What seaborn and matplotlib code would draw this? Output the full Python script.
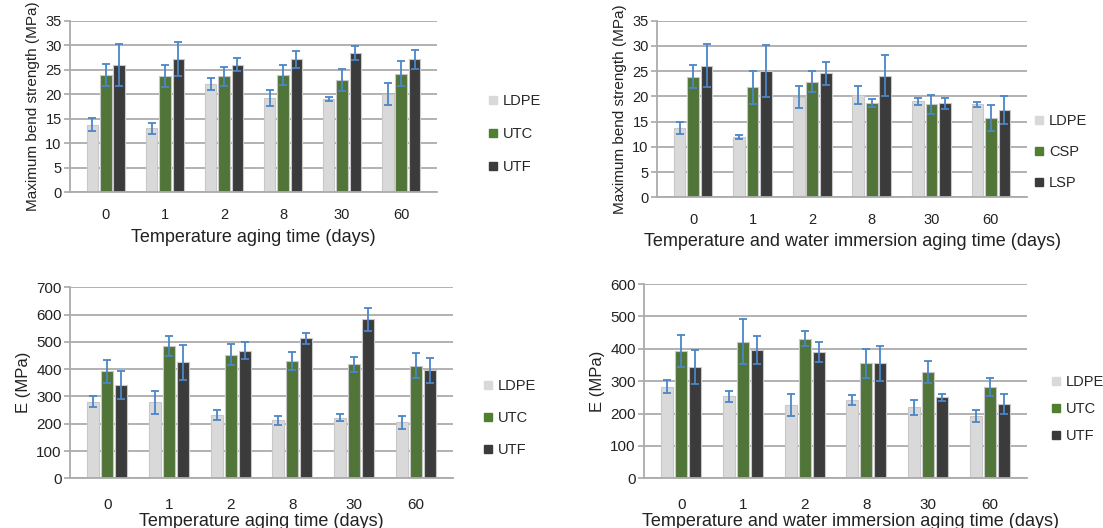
import matplotlib
matplotlib.use("Agg")
import matplotlib.pyplot as plt
import seaborn as sns
import pandas as pd
from matplotlib.lines import Line2D

days = ["0", "1", "2", "8", "30", "60"]

# top left: bend strength, temperature aging
bend_t_ldpe = [13.8, 13.0, 22.1, 19.2, 19.1, 20.0]
bend_t_ldpe_err = [1.3, 1.2, 1.2, 1.7, 0.4, 2.3]
bend_t_utc = [23.9, 23.7, 23.6, 23.9, 22.9, 24.2]
bend_t_utc_err = [2.3, 2.3, 2.0, 2.0, 2.3, 2.6]
bend_t_utf = [26.0, 27.1, 26.0, 27.1, 28.4, 27.1]
bend_t_utf_err = [4.3, 3.5, 1.3, 1.7, 1.4, 1.9]

# top right: bend strength, temperature + water immersion
bend_w_ldpe = [13.7, 11.9, 19.9, 20.3, 19.0, 18.4]
bend_w_ldpe_err = [1.25, 0.4, 2.2, 1.75, 0.7, 0.5]
bend_w_csp = [23.9, 21.8, 22.9, 18.6, 18.4, 15.7]
bend_w_csp_err = [2.3, 3.3, 2.1, 0.8, 1.8, 2.5]
bend_w_lsp = [26.1, 25.0, 24.6, 24.1, 18.6, 17.3]
bend_w_lsp_err = [4.3, 5.2, 2.3, 4.1, 1.1, 2.8]

# bottom left: modulus, temperature aging
e_t_ldpe = [280, 278, 232, 212, 222, 205]
e_t_ldpe_err = [20, 42, 17, 15, 12, 25]
e_t_utc = [392, 485, 453, 430, 418, 413]
e_t_utc_err = [42, 35, 38, 32, 27, 47]
e_t_utf = [342, 425, 468, 513, 583, 396]
e_t_utf_err = [52, 65, 30, 20, 42, 45]

# bottom right: modulus, temperature + water immersion
e_w_ldpe = [283, 254, 226, 242, 219, 192]
e_w_ldpe_err = [20, 17, 35, 16, 23, 18]
e_w_utc = [393, 422, 431, 355, 328, 281]
e_w_utc_err = [48, 70, 23, 45, 35, 28]
e_w_utf = [344, 396, 390, 355, 250, 229]
e_w_utf_err = [53, 42, 30, 55, 10, 30]

colors = ["#d9d9d9", "#4f7f2f", "#3b3b3b"]
err_color = "#4a87c9"
grid_color = "#ababab"

sns.set_theme(style="white")
plt.rcParams["font.family"] = ["Liberation Sans", "DejaVu Sans"]

fig = plt.figure(figsize=(11.03, 5.28), dpi=100)
W, H = 1103, 528


def add_axes(x0, x1, ytop, ybot):
    return fig.add_axes([x0 / W, 1 - ybot / H, (x1 - x0) / W, (ybot - ytop) / H])


def draw(ax, names, vals, errs, ymax, ystep, ylabel, ylabel_size, xlabel, tick_size,
         xpad, lpad, lx, leg_xy, leg_space):
    rows = []
    for name, v in zip(names, vals):
        for d, y in zip(days, v):
            rows.append({"day": d, "mat": name, "val": y})
    df = pd.DataFrame(rows)
    ax.set_axisbelow(True)
    sns.barplot(data=df, x="day", y="val", hue="mat", order=days, hue_order=names,
                palette=colors, width=0.68, gap=0.14, errorbar=None,
                edgecolor="#c8c8c8", linewidth=0.8, legend=False, ax=ax)
    for cont, e in zip(ax.containers, errs):
        xs = [b.get_x() + b.get_width() / 2 for b in cont]
        hs = [b.get_height() for b in cont]
        ax.errorbar(xs, hs, yerr=e, fmt="none", ecolor=err_color, elinewidth=1.3,
                    capsize=3, capthick=1.3, zorder=5)
    ax.set_ylim(0, ymax)
    ax.set_yticks(range(0, ymax + 1, ystep))
    ax.yaxis.grid(True, color=grid_color, linewidth=1.3)
    ax.xaxis.grid(False)
    for s in ["top", "right"]:
        ax.spines[s].set_visible(False)
    ax.spines["left"].set_color(grid_color)
    ax.spines["bottom"].set_color(grid_color)
    ax.spines["left"].set_linewidth(1.3)
    ax.spines["bottom"].set_linewidth(1.3)
    ax.tick_params(axis="y", left=True, length=4, color=grid_color, labelsize=tick_size,
                   labelcolor="#222222", pad=2)
    ax.tick_params(axis="x", bottom=False, labelsize=tick_size, labelcolor="#222222", pad=xpad)
    ax.set_ylabel(ylabel, fontsize=ylabel_size, color="#222222")
    ax.set_xlabel(xlabel, fontsize=13, color="#222222", labelpad=lpad)
    ax.xaxis.label.set_x(lx)
    handles = [Line2D([], [], marker="s", linestyle="none", markersize=5.5,
                      markerfacecolor=c, markeredgecolor=c) for c in colors]
    ax.legend(handles, names, loc="center left", bbox_to_anchor=(leg_xy[0] / W, 1 - leg_xy[1] / H),
              bbox_transform=fig.transFigure, frameon=False, fontsize=10.5,
              handlelength=0.6, handletextpad=0.35, labelspacing=leg_space,
              borderaxespad=0, borderpad=0)


ax1 = add_axes(70, 437, 20.5, 192.3)
draw(ax1, ["LDPE", "UTC", "UTF"], [bend_t_ldpe, bend_t_utc, bend_t_utf],
     [bend_t_ldpe_err, bend_t_utc_err, bend_t_utf_err], 35, 5,
     "Maximum bend strength (MPa)", 11, "Temperature aging time (days)", 10.5, 5, 5.5, 0.5,
     (489, 134), 1.3)

ax2 = add_axes(657, 1027, 20.7, 197.3)
draw(ax2, ["LDPE", "CSP", "LSP"], [bend_w_ldpe, bend_w_csp, bend_w_lsp],
     [bend_w_ldpe_err, bend_w_csp_err, bend_w_lsp_err], 35, 5,
     "Maximum bend strength (MPa)", 11, "Temperature and water immersion aging time (days)",
     10.5, 5, 4.5, 0.528, (1035, 152), 1.15)

ax3 = add_axes(70, 453, 287.3, 478.3)
draw(ax3, ["LDPE", "UTC", "UTF"], [e_t_ldpe, e_t_utc, e_t_utf],
     [e_t_ldpe_err, e_t_utc_err, e_t_utf_err], 700, 100,
     "E (MPa)", 12, "Temperature aging time (days)", 11, 8, 1, 0.5, (484, 418), 1.25)

ax4 = add_axes(644, 1027, 284, 478.3)
draw(ax4, ["LDPE", "UTC", "UTF"], [e_w_ldpe, e_w_utc, e_w_utf],
     [e_w_ldpe_err, e_w_utc_err, e_w_utf_err], 600, 100,
     "E (MPa)", 12, "Temperature and water immersion aging time (days)", 11, 8, 1, 0.54,
     (1052, 409), 0.9)

fig.savefig("out.png", dpi=100)
